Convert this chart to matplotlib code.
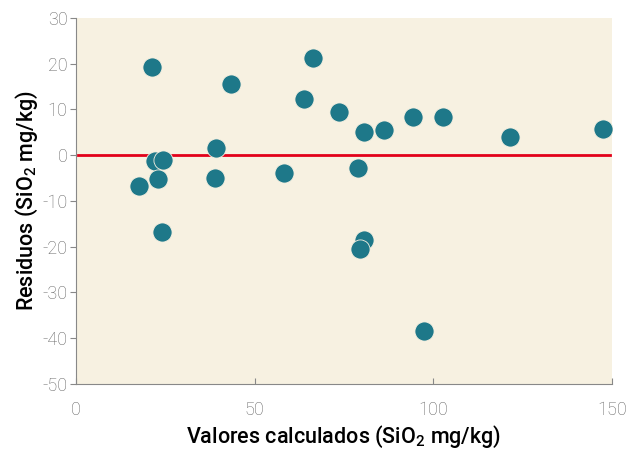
import numpy as np
import matplotlib
matplotlib.use('Agg')
import matplotlib.pyplot as plt

# residuals vs calculated values (SiO2 mg/kg)
calculados = [17.6, 21.3, 22.1, 24.3, 23.0, 24.1, 39.2, 38.9, 43.4, 58.2, 63.8, 66.3,
              73.6, 78.9, 80.6, 80.6, 79.5, 86.2, 94.3, 97.4, 102.7, 121.5, 147.5]
residuos = [-6.8, 19.2, -1.3, -1.1, -5.2, -16.8, 1.6, -5.0, 15.5, -3.8, 12.3, 21.3,
            9.5, -2.7, 5.0, -18.5, -20.5, 5.4, 8.3, -38.5, 8.4, 4.0, 5.8]
x_ticks = [0, 50, 100, 150]
y_ticks = [30, 20, 10, 0, -10, -20, -30, -40, -50]

plt.rcParams['font.family'] = ['Roboto', 'Liberation Sans', 'DejaVu Sans']
plt.rcParams['axes.unicode_minus'] = False
plt.rcParams['mathtext.fontset'] = 'custom'
plt.rcParams['mathtext.rm'] = 'Roboto:weight=medium'
plt.rcParams['mathtext.it'] = 'Roboto:weight=medium'

fig = plt.figure(figsize=(6.44, 4.50), dpi=100)
ax = fig.add_axes([0.118, 0.147, 0.832, 0.813])
ax.set_facecolor('#f7f1e1')

ax.scatter(calculados, residuos, s=190, color='#1e7889', edgecolors='#f7f1e1',
           linewidths=0.6, zorder=3)
ax.plot([0.5, 149.5], [0, 0], color='#e2001a', linewidth=2, zorder=2)

ax.set_xlim(0, 150)
ax.set_ylim(-50, 30)
ax.set_xticks(x_ticks)
ax.set_yticks(y_ticks)

for side in ['top', 'right']:
    ax.spines[side].set_visible(False)
for side in ['left', 'bottom']:
    ax.spines[side].set_color('#888888')
    ax.spines[side].set_linewidth(0.8)

ax.tick_params(axis='y', direction='out', length=4, color='#888888',
               labelsize=13, labelcolor='#666666', pad=2)
ax.tick_params(axis='x', direction='in', length=4, color='#888888',
               labelsize=13, labelcolor='#666666', pad=12)
for lbl in ax.get_xticklabels() + ax.get_yticklabels():
    lbl.set_fontweight('light')

ax.set_xlabel('Valores calculados (SiO$_2$ mg/kg)', fontsize=15.5,
              fontweight='medium', labelpad=4)
ax.set_ylabel('Residuos (SiO$_2$ mg/kg)', fontsize=15.5,
              fontweight='medium', labelpad=2)

plt.savefig('out.png', dpi=100)
